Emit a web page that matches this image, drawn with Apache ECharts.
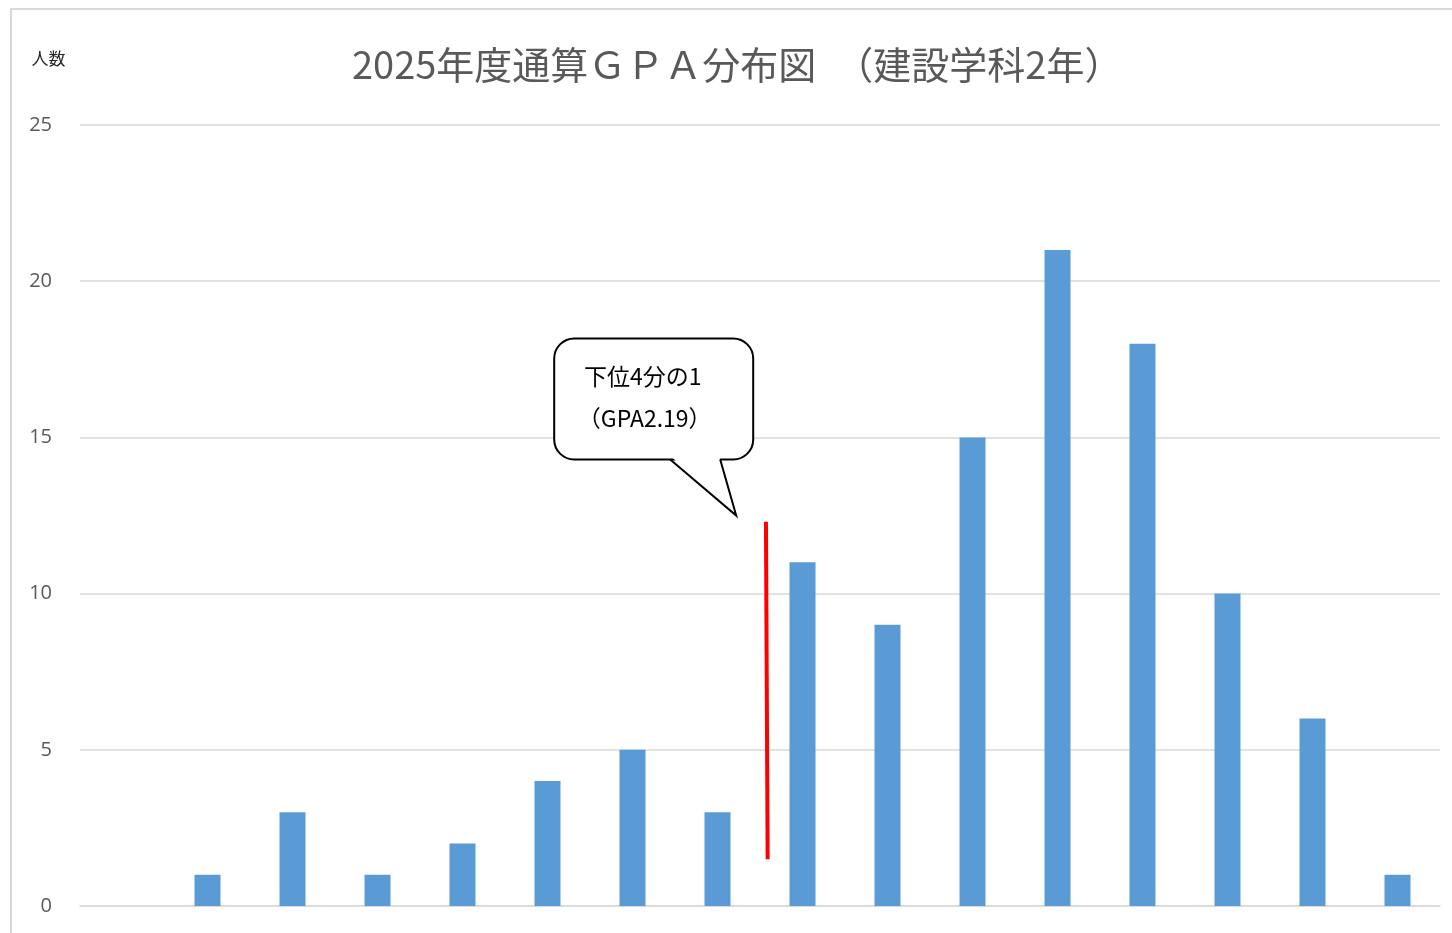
<!DOCTYPE html>
<html>
<head>
<meta charset="utf-8">
<script src="https://cdn.jsdelivr.net/npm/echarts@6.0.0/dist/echarts.min.js"></script>
<style>
html,body{margin:0;padding:0;background:#fff;}
#chart{width:1452px;height:933px;}
</style>
</head>
<body>
<div id="chart"></div>
<script>
// ---- data ----
const titleText = '2025年度通算ＧＰＡ分布図　（建設学科2年）';
const yAxisName = '人数';
const categories = ['1','2','3','4','5','6','7','8','9','10','11','12','13','14','15','16'];
const counts = [0, 1, 3, 1, 2, 4, 5, 3, 11, 9, 15, 21, 18, 10, 6, 1];
const yTicks = { min: 0, max: 25, interval: 5 };
// red marker line (lower quartile), x in category units (0..16), y in counts
const quartileLineX = [8.07, 8.09];
const quartileLineY = [12.3, 1.5];
const calloutLines = ['下位4分の1', '（GPA2.19）'];
const calloutTip = [7.72, 12.5];

const chart = echarts.init(document.getElementById('chart'));
const FONT = '"Noto Sans CJK JP", "Noto Sans", sans-serif';

const option = {
  backgroundColor: '#ffffff',
  animation: false,
  textStyle: { fontFamily: FONT },
  title: {
    text: titleText,
    left: 347,
    top: 41,
    textStyle: { fontFamily: FONT, fontSize: 38, fontWeight: 'normal', color: '#595959' }
  },
  grid: { left: 80, right: 12, top: 125, bottom: 27, containLabel: false },
  xAxis: [
    {
      type: 'category',
      data: categories,
      axisLine: { show: true, lineStyle: { color: '#d9d9d9', width: 1.5 } },
      axisTick: { show: false },
      axisLabel: { show: false }
    },
    {
      type: 'value',
      min: 0,
      max: categories.length,
      show: false
    }
  ],
  yAxis: {
    type: 'value',
    min: yTicks.min,
    max: yTicks.max,
    interval: yTicks.interval,
    name: yAxisName,
    nameLocation: 'end',
    nameGap: 58,
    nameTextStyle: { fontFamily: FONT, fontSize: 17, color: '#262626', align: 'center', padding: [0, 0, 0, -63] },
    axisLine: { show: false },
    axisTick: { show: false },
    axisLabel: { fontFamily: '"Open Sans", sans-serif', fontSize: 20, color: '#595959', margin: 28 },
    splitLine: { lineStyle: { color: '#d9d9d9', width: 1.5 } }
  },
  series: [
    {
      type: 'bar',
      data: counts,
      barWidth: 26,
      itemStyle: { color: '#5b9bd5' }
    },
    {
      type: 'line',
      xAxisIndex: 1,
      yAxisIndex: 0,
      data: [[quartileLineX[0], quartileLineY[0]], [quartileLineX[1], quartileLineY[1]]],
      symbol: 'none',
      lineStyle: { color: '#ff0000', width: 4 },
      z: 5
    }
  ]
};
chart.setOption(option);

// callout anchored at the tip in data coordinates
const tip = chart.convertToPixel({ xAxisIndex: 1, yAxisIndex: 0 }, calloutTip);
const tx = tip[0], ty = tip[1];
const bx0 = tx - 182, bx1 = tx + 17, by0 = ty - 177, by1 = ty - 56;
const baseL = tx - 66, baseR = tx - 16;
const cx = (bx0 + bx1) / 2 - 11;

chart.setOption({
  graphic: [
    {
      type: 'rect',
      silent: true,
      shape: { x: 11, y: 9, width: 1500, height: 1000 },
      style: { fill: 'none', stroke: '#d9d9d9', lineWidth: 2 },
      z: -10
    },
    {
      type: 'rect',
      shape: { x: bx0, y: by0, width: bx1 - bx0, height: by1 - by0, r: 20 },
      style: { fill: '#ffffff', stroke: '#000000', lineWidth: 2 },
      z: 100
    },
    {
      type: 'polygon',
      shape: { points: [[baseL + 1, by1 - 3], [tx, ty], [baseR - 1, by1 - 3]] },
      style: { fill: '#ffffff', stroke: 'none' },
      z: 101
    },
    {
      type: 'polyline',
      shape: { points: [[baseL, by1], [tx, ty], [baseR, by1]] },
      style: { fill: 'none', stroke: '#000000', lineWidth: 2 },
      z: 102
    },
    {
      type: 'text',
      x: cx, y: by0 + 38,
      style: { text: calloutLines[0], font: '23px ' + FONT, fill: '#000000', textAlign: 'center', textVerticalAlign: 'middle' },
      z: 103
    },
    {
      type: 'text',
      x: cx + 2, y: by0 + 80,
      style: { text: calloutLines[1], font: '23px ' + FONT, fill: '#000000', textAlign: 'center', textVerticalAlign: 'middle' },
      z: 103
    }
  ]
});
</script>
</body>
</html>
